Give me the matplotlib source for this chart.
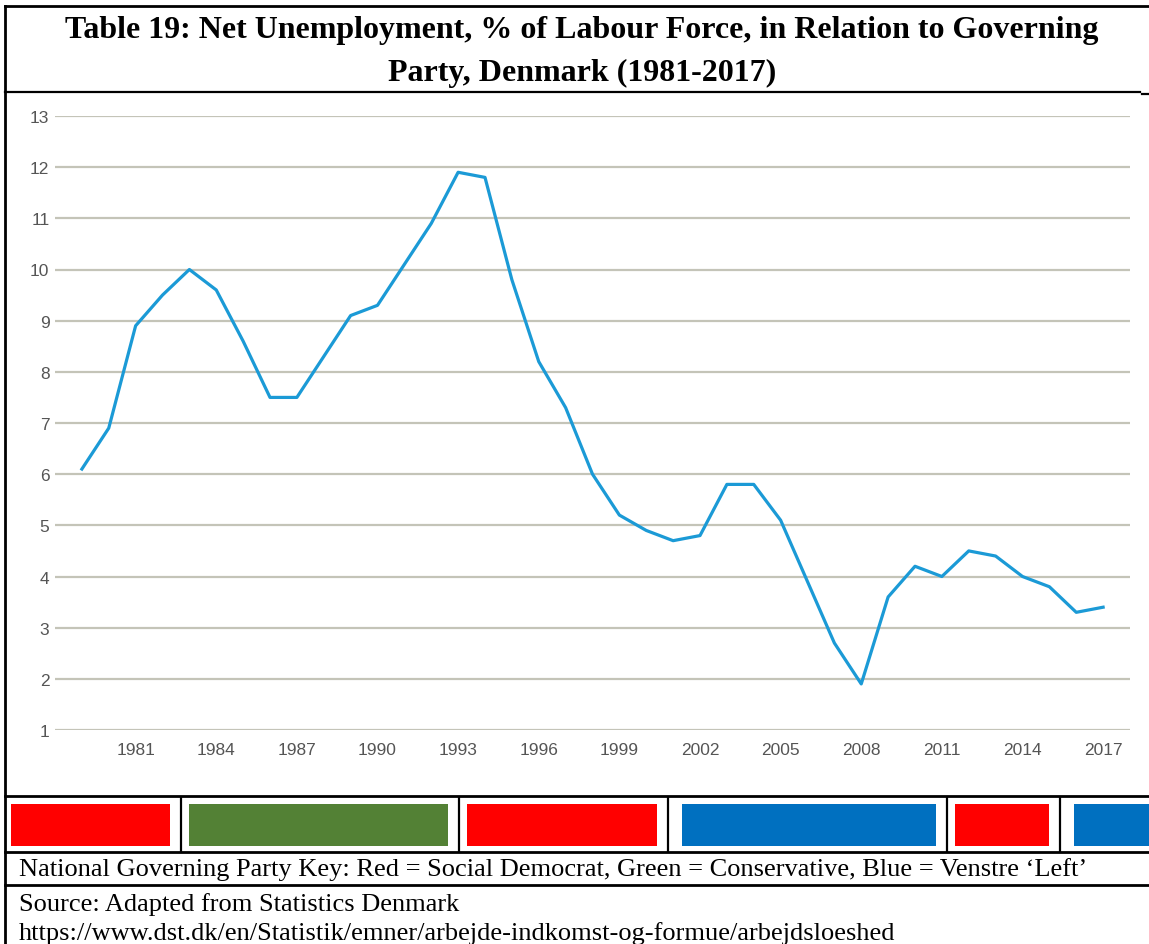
import matplotlib
matplotlib.use('Agg')
import matplotlib.pyplot as plt
from matplotlib.lines import Line2D
from matplotlib.patches import Rectangle

W, H = 1149, 945

YEARS = list(range(1979, 2018))
UNEMPLOYMENT = [6.1, 6.9, 8.9, 9.5, 10.0, 9.6, 8.6, 7.5, 7.5, 8.3,
                9.1, 9.3, 10.1, 10.9, 11.9, 11.8, 9.8, 8.2, 7.3, 6.0,
                5.2, 4.9, 4.7, 4.8, 5.8, 5.8, 5.1, 3.9, 2.7, 1.9,
                3.6, 4.2, 4.0, 4.5, 4.4, 4.0, 3.8, 3.3, 3.4]
X_TICKS = list(range(1981, 2018, 3))
Y_TICKS = list(range(1, 14))

# governing party periods (start year, party)
PERIOD_START = [1976.0, 1982.7, 1993.05, 2000.8, 2011.2, 2015.4]
PERIOD_PARTY = ['SD', 'Con', 'SD', 'V', 'SD', 'V']
PARTY_COLOURS = {'SD': '#ff0000', 'Con': '#538135', 'V': '#0070c0'}

TITLE = 'Table 19: Net Unemployment, % of Labour Force, in Relation to Governing\nParty, Denmark (1981-2017)'
KEY = 'National Governing Party Key: Red = Social Democrat, Green = Conservative, Blue = Venstre \u2018Left\u2019'
SOURCE = 'Source: Adapted from Statistics Denmark'
URL = 'https://www.dst.dk/en/Statistik/emner/arbejde-indkomst-og-formue/arbejdsloeshed'


def fx(px):
    return px / W


def fy(py):
    return 1 - py / H


def hline(fig, y, x0, x1, lw=1.6):
    fig.add_artist(Line2D([fx(x0), fx(x1)], [fy(y), fy(y)], color='black', lw=lw))


def vline(fig, x, y0, y1, lw=1.6):
    fig.add_artist(Line2D([fx(x), fx(x)], [fy(y0), fy(y1)], color='black', lw=lw))


def main():
    fig = plt.figure(figsize=(W / 100, H / 100), dpi=100)

    # main chart, plot area 55..1130 x 117..731 px
    ax = fig.add_axes([fx(55), fy(731), fx(1130) - fx(55), fy(117) - fy(731)])
    ax.plot(YEARS, UNEMPLOYMENT, color='#1b9ad6', lw=2.3, clip_on=False, zorder=3)
    ax.set_xlim(1978, 2018)
    ax.set_ylim(1, 13)
    ax.set_yticks(Y_TICKS)
    ax.set_xticks(X_TICKS)
    ax.grid(axis='y', color='#c4c4b8', lw=1.6)
    ax.tick_params(length=0, labelsize=12.5, labelcolor='#555555', pad=9)
    ax.tick_params(axis='y', pad=4)
    for lab in ax.get_xticklabels() + ax.get_yticklabels():
        lab.set_fontfamily('Liberation Sans')
    for s in ax.spines.values():
        s.set_visible(False)

    # governing party strip, same year scale as the chart
    px_year = (1130 - 55) / 40
    bx = fig.add_axes([fx(5), fy(853), fx(1149) - fx(5), fy(797) - fy(853)])
    x0, x1 = 1978 - 50 / px_year, 2018 + 19 / px_year
    bx.set_xlim(x0, x1)
    bx.set_ylim(853, 797)
    bx.axis('off')
    ends = PERIOD_START[1:] + [2030]
    for i, (s, e, p) in enumerate(zip(PERIOD_START, ends, PERIOD_PARTY)):
        left = max(s, x0) + (6 if i == 0 else 8) / px_year
        if p == 'V':
            left += 6 / px_year
        right = e - 11 / px_year
        bx.add_patch(Rectangle((left, 805), right - left, 42,
                               color=PARTY_COLOURS[p], lw=0))
        if i > 0:
            bx.axvline(s, color='black', lw=1.6)

    # table frame
    hline(fig, 7, 5, 1149, lw=2)
    vline(fig, 5, 7, 945, lw=2)
    hline(fig, 93, 5, 1140)
    hline(fig, 95, 1142, 1149)
    hline(fig, 797, 5, 1149, lw=2)
    hline(fig, 853, 5, 1149, lw=2)
    hline(fig, 886, 5, 1149, lw=2)

    fig.text(fx(582), fy(52), TITLE, ha='center', va='center',
             family='Liberation Serif', weight='bold', fontsize=23,
             linespacing=1.6)
    fig.text(fx(19), fy(870), KEY, ha='left', va='center',
             family='Liberation Serif', fontsize=19)
    fig.text(fx(19), fy(905), SOURCE, ha='left', va='center',
             family='Liberation Serif', fontsize=19)
    fig.text(fx(19), fy(934), URL, ha='left', va='center',
             family='Liberation Serif', fontsize=19)

    fig.savefig('out.png', dpi=100)


if __name__ == '__main__':
    main()
